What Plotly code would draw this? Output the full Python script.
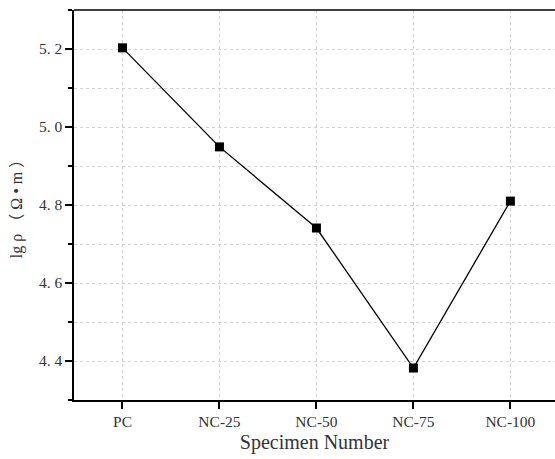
import plotly.graph_objects as go

categories = ["PC", "NC-25", "NC-50", "NC-75", "NC-100"]
values = [5.203, 4.949, 4.741, 4.382, 4.81]
y_ticks = [4.4, 4.6, 4.8, 5.0, 5.2]
y_tick_text = ["4. 4", "4. 6", "4. 8", "5. 0", "5. 2"]

font_main = "Liberation Serif, Noto Sans CJK SC, serif"

fig = go.Figure()
fig.add_trace(go.Scatter(
    x=list(range(len(categories))), y=values, mode="lines+markers",
    line=dict(color="black", width=1.3),
    marker=dict(symbol="square", size=9, color="black"),
    showlegend=False,
))

fig.update_layout(
    width=555, height=459,
    margin=dict(l=74, r=0, t=10, b=59),
    plot_bgcolor="white", paper_bgcolor="white",
    font=dict(family=font_main, color="#333333"),
    xaxis=dict(
        range=[-0.5, 4.46],
        tickmode="array", tickvals=list(range(len(categories))), ticktext=categories,
        ticks="outside", ticklen=7, tickwidth=1.5, tickcolor="black",
        showline=True, linecolor="black", linewidth=1.5,
        showgrid=True, gridcolor="#d2d2d2", griddash="dot", gridwidth=1,
        zeroline=False,
        tickfont=dict(size=15.5, family=font_main, color="#333333"),
        title=dict(text="Specimen Number", font=dict(size=20, family=font_main, color="#333333"), standoff=6),
    ),
    yaxis=dict(
        range=[4.3, 5.3],
        tickmode="array", tickvals=y_ticks, ticktext=y_tick_text,
        ticks="outside", ticklen=7, tickwidth=1.5, tickcolor="black",
        showline=True, linecolor="black", linewidth=1.5,
        showgrid=True, gridcolor="#d2d2d2", griddash="dot", gridwidth=1,
        zeroline=False,
        minor=dict(dtick=0.1, tick0=4.3, ticks="outside", ticklen=4, tickwidth=1.5, tickcolor="black",
                   showgrid=True, gridcolor="#d2d2d2", griddash="dot", gridwidth=1),
        tickfont=dict(size=15.5, family=font_main, color="#333333"),
        title=dict(text="lg ρ （ Ω • m ）", font=dict(size=16, family=font_main, color="#333333"), standoff=12),
    ),
    shapes=[dict(type="line", xref="paper", yref="paper", x0=0, x1=1, y0=1, y1=1,
                 line=dict(color="black", width=1.5))],
)

fig.write_html("out.html")
